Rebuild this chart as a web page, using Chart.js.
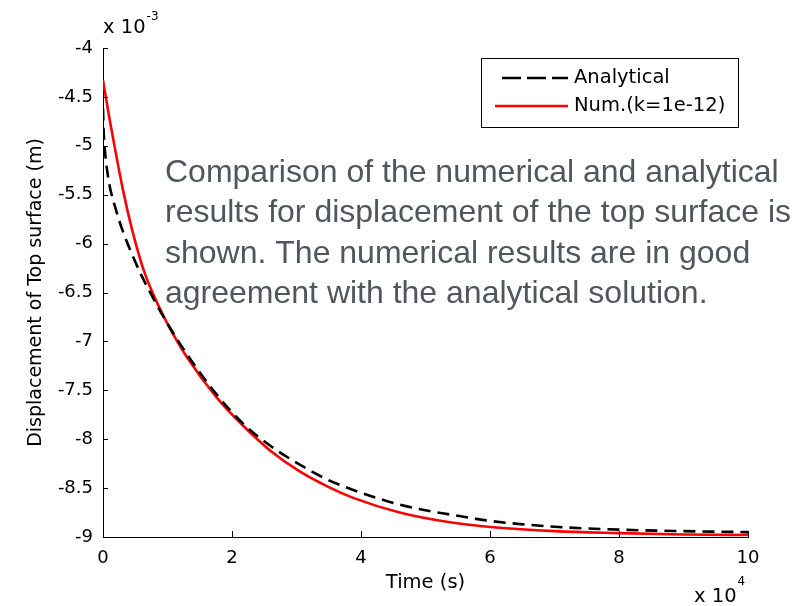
<!DOCTYPE html>
<html>
<head>
<meta charset="utf-8">
<script src="https://cdn.jsdelivr.net/npm/chart.js@4.4.1/dist/chart.umd.min.js"></script>
<style>
  html, body { margin: 0; padding: 0; background: #ffffff; }
  #wrap { width: 810px; height: 606px; position: relative; }
</style>
</head>
<body>
<div id="wrap"><canvas id="c" width="810" height="606"></canvas></div>
<script>
// ---- data (time in units of 1e4 s, displacement in units of 1e-3 m) ----
const timeAnalytical = [0, 0.01, 0.03, 0.05, 0.1, 0.19, 0.3, 0.47, 0.6, 0.78, 0.93, 1.19, 1.46, 1.77, 2.17, 2.6, 3.05, 3.47, 3.88, 4.24, 4.6, 5.02, 5.38, 5.74, 6.05, 7.0, 8.0, 9.0, 10];
const dispAnalytical = [-4.62, -4.85, -5.05, -5.18, -5.40, -5.63, -5.86, -6.14, -6.33, -6.56, -6.74, -7.02, -7.28, -7.55, -7.84, -8.07, -8.26, -8.41, -8.52, -8.60, -8.67, -8.73, -8.77, -8.81, -8.84, -8.895, -8.925, -8.94, -8.95];

const timeNumerical = [0, 0.1, 0.2, 0.3, 0.4, 0.5, 0.62, 0.8, 1.0, 1.3, 1.77, 2.17, 2.6, 3.05, 3.5, 3.88, 4.6, 5.38, 6.05, 7.0, 8.0, 9.0, 10];
const dispNumerical = [-4.33, -4.72, -5.08, -5.42, -5.72, -5.98, -6.25, -6.55, -6.82, -7.16, -7.58, -7.86, -8.12, -8.33, -8.49, -8.60, -8.75, -8.85, -8.90, -8.94, -8.96, -8.975, -8.98];

const seriesLabels = ['Analytical', 'Num.(k=1e-12)'];
const xTicks = [0, 2, 4, 6, 8, 10];
const yTicks = [-4, -4.5, -5, -5.5, -6, -6.5, -7, -7.5, -8, -8.5, -9];
const xTickLabels = ['0', '2', '4', '6', '8', '10'];
const yTickLabels = ['-4', '-4.5', '-5', '-5.5', '-6', '-6.5', '-7', '-7.5', '-8', '-8.5', '-9'];
const xTitle = 'Time (s)';
const yTitle = 'Displacement of Top surface (m)';
const xExponent = '4';
const yExponent = '-3';
const noteLines = [
  'Comparison of the numerical and analytical',
  'results for displacement of the top surface is',
  'shown. The numerical results are in good',
  'agreement with the analytical solution.'
];

const toPoints = (xs, ys) => xs.map((x, i) => ({ x: x, y: ys[i] }));

Chart.defaults.font.family = '"DejaVu Sans", sans-serif';
Chart.defaults.color = '#000';

const decorations = {
  id: 'decorations',
  afterDraw(chart) {
    const ctx = chart.ctx;
    const xs = chart.scales.x, ys = chart.scales.y, a = chart.chartArea;
    ctx.save();
    // inward tick marks
    ctx.strokeStyle = '#000';
    ctx.lineWidth = 1;
    xTicks.forEach(v => {
      const px = Math.round(xs.getPixelForValue(v)) + 0.5;
      ctx.beginPath(); ctx.moveTo(px, a.bottom); ctx.lineTo(px, a.bottom - 6); ctx.stroke();
    });
    yTicks.forEach(v => {
      const py = Math.round(ys.getPixelForValue(v)) + 0.5;
      ctx.beginPath(); ctx.moveTo(a.left, py); ctx.lineTo(a.left + 5, py); ctx.stroke();
    });

    // exponent labels
    ctx.fillStyle = '#000';
    ctx.textBaseline = 'middle';
    ctx.textAlign = 'left';
    ctx.font = '19.5px "DejaVu Sans"';
    ctx.fillText('x 10', a.left, 28);
    let w = ctx.measureText('x 10').width;
    ctx.font = '12px "DejaVu Sans"';
    ctx.fillText(yExponent, a.left + w + 1, 17);

    ctx.font = '19.5px "DejaVu Sans"';
    ctx.fillText('x 10', 694, 597);
    w = ctx.measureText('x 10').width;
    ctx.font = '12px "DejaVu Sans"';
    ctx.fillText(xExponent, 694 + w + 1, 582);

    // legend
    const lx = 481, ly = 58, lw = 257, lh = 69;
    ctx.fillStyle = '#fff';
    ctx.fillRect(lx, ly, lw, lh);
    ctx.strokeStyle = '#000';
    ctx.lineWidth = 1;
    ctx.strokeRect(lx + 0.5, ly + 0.5, lw, lh);
    const ds = chart.data.datasets;
    const rows = [78, 106];
    ds.forEach((d, i) => {
      ctx.save();
      ctx.strokeStyle = d.borderColor;
      ctx.lineWidth = 2.5;
      if (d.borderDash && d.borderDash.length) {
        ctx.setLineDash([19, 6]);
        ctx.beginPath(); ctx.moveTo(502, rows[i]); ctx.lineTo(568, rows[i]); ctx.stroke();
      } else {
        ctx.beginPath(); ctx.moveTo(495, rows[i]); ctx.lineTo(568, rows[i]); ctx.stroke();
      }
      ctx.restore();
      ctx.fillStyle = '#000';
      ctx.font = '19.5px "DejaVu Sans"';
      ctx.textBaseline = 'middle';
      ctx.fillText(d.label, 574, rows[i]);
    });

    // note text
    ctx.fillStyle = '#50565e';
    ctx.font = '32px "Liberation Sans", Arial, sans-serif';
    ctx.textBaseline = 'middle';
    noteLines.forEach((t, i) => ctx.fillText(t, 165, 173 + i * 40.5));
    ctx.restore();
  }
};

new Chart(document.getElementById('c'), {
  type: 'line',
  data: {
    datasets: [
      {
        label: seriesLabels[0],
        data: toPoints(timeAnalytical, dispAnalytical),
        borderColor: '#000000',
        borderWidth: 2.6,
        borderDash: [12, 7],
        pointRadius: 0,
        cubicInterpolationMode: 'monotone',
        fill: false,
        order: 0
      },
      {
        label: seriesLabels[1],
        data: toPoints(timeNumerical, dispNumerical),
        borderColor: '#ff0000',
        borderWidth: 2.6,
        pointRadius: 0,
        cubicInterpolationMode: 'monotone',
        fill: false,
        order: 1
      }
    ]
  },
  options: {
    responsive: false,
    animation: false,
    devicePixelRatio: 1,
    layout: { padding: { left: 0, top: 48, right: 62, bottom: 0 } },
    plugins: { legend: { display: false }, tooltip: { enabled: false } },
    scales: {
      x: {
        type: 'linear',
        min: 0, max: 10,
        afterBuildTicks: s => { s.ticks = xTicks.map(v => ({ value: v })); },
        afterFit: s => { s.height = 69; },
        grid: { display: false, drawTicks: false },
        border: { display: true, color: '#000', width: 1 },
        ticks: {
          padding: 11, color: '#000', font: { size: 18 }, maxRotation: 0,
          callback: (v) => { const i = xTicks.indexOf(v); return i >= 0 ? xTickLabels[i] : ''; }
        },
        title: { display: true, text: xTitle, color: '#000', font: { size: 19.5 }, padding: { top: 0, bottom: 11 } }
      },
      y: {
        type: 'linear',
        min: -9, max: -4,
        afterBuildTicks: s => { s.ticks = yTicks.map(v => ({ value: v })); },
        afterFit: s => { s.width = 103; },
        grid: { display: false, drawTicks: false },
        border: { display: true, color: '#000', width: 1 },
        ticks: {
          padding: 10, color: '#000', font: { size: 18 },
          callback: (v) => { const i = yTicks.indexOf(v); return i >= 0 ? yTickLabels[i] : ''; }
        },
        title: { display: true, text: yTitle, color: '#000', font: { size: 19 }, padding: { top: 25, bottom: 0 } }
      }
    }
  },
  plugins: [decorations]
});
</script>
</body>
</html>
